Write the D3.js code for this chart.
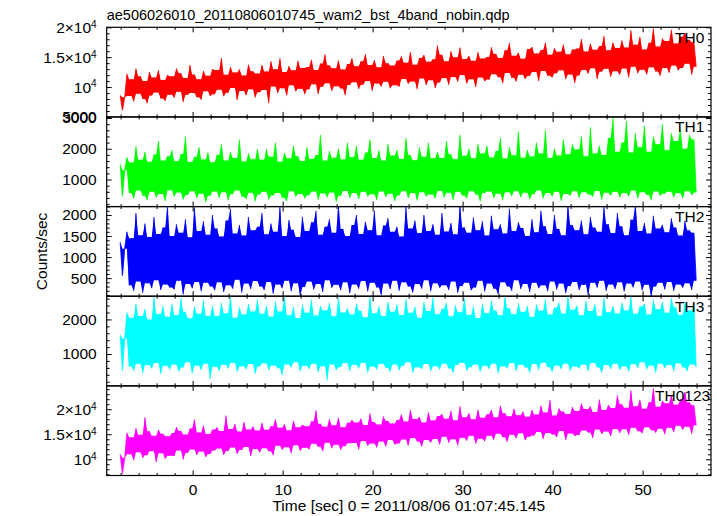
<!DOCTYPE html>
<html><head><meta charset="utf-8">
<script src="https://cdn.jsdelivr.net/npm/d3@7"></script>
<style>
body{margin:0;background:#fff}
svg{display:block}
text{font-family:"Liberation Sans",Arial,Helvetica,sans-serif;fill:#000}
</style>
</head><body>
<svg id="chart" width="717" height="516"></svg>
<script>
// ---------------- data ----------------
const TITLE = "ae506026010_20110806010745_wam2_bst_4band_nobin.qdp";
const X_LABEL = "Time [sec] 0 = 2011/08/06 01:07:45.145";
const Y_LABEL = "Counts/sec";
const TIME_START = -8.05, TIME_STEP = 0.25;   // sampling of the values below
const xTicks = [0, 10, 20, 30, 40, 50];
const seriesNames = ["TH0", "TH1", "TH2", "TH3", "TH0123"];

const th0 = [8600,6100,8300,
12200,8500,11300,7600,13100,8900,11800,8000,11000,7300,12500,8600,11600,9100,12800,8100,11200,7700,12000,8700,
11800,8200,13100,9200,12300,7500,11500,8700,13700,9000,12100,8300,11300,7900,12700,9300,11900,8500,13000,8800,
12850,9550,14850,8450,12050,9050,13350,9850,12450,7850,12950,9350,11950,8650,13750,9650,12650,8250,12250,9150,
13700,9500,12600,7300,14300,10100,13000,9000,14800,9800,12500,8600,13500,10300,12800,9300,14400,9700,13200,8800,
13350,9650,14550,10450,12850,8850,13950,10050,15450,10650,13650,9350,13150,10150,14450,9750,12950,8650,13850,10350,
14800,10800,13500,9700,14300,10400,15500,11000,13700,9400,14500,10600,13300,10100,15200,10900,14000,9800,13600,10300,
14450,10050,15150,11350,14050,10550,15850,10950,13750,9650,14850,11450,15350,10350,14250,11150,14650,9850,16950,10750,
15400,11500,14300,10400,16000,11700,15000,10900,16600,12000,14700,10600,15200,11300,14400,10000,15800,11600,14800,11000,
15050,11250,16650,12150,15550,11650,14850,10650,16150,12350,17350,11550,15250,10950,15750,12050,14750,11350,16350,11850,
16700,12500,15600,11000,16200,12700,17400,11900,15400,11600,16500,12300,15900,12800,17100,11300,15500,12100,16300,10700,
16450,11950,18050,12850,15950,12250,17250,13150,16250,11350,16850,12550,18550,13050,16150,11750,17450,12650,16550,12050,
17800,13100,16600,11600,19500,13400,17100,12300,18400,12900,16300,12100,17400,13300,19800,12600,16800,11900,18100,13200,
17700,12400,19600,13600,17300,12800,18400,13200,19100,13900,17900,12100,17500,13400];

const th1 = [1500,450,1300,
1720,560,1550,380,2080,640,1640,470,1900,330,1580,600,1810,420,2250,530,1620,300,1760,650,
1950,450,1600,580,1830,350,2400,500,1570,620,1740,390,2050,540,1650,260,1880,470,1560,610,
1800,400,2150,590,1620,330,1900,520,1700,640,2300,440,1590,370,1850,570,1660,290,2000,510,
1640,600,1980,350,1740,480,2200,560,1580,410,1870,300,1690,620,2100,450,1760,530,1600,380,
2050,490,1670,610,1800,340,2450,550,1620,420,1930,580,1710,280,2000,470,1650,630,2200,400,
1730,560,2100,370,1640,600,1880,450,2300,520,1700,330,1950,610,1620,430,2150,540,1780,300,
1960,480,1670,620,2350,400,1800,560,1630,320,2050,590,1740,450,2200,510,1690,380,1900,630,
1700,420,2250,570,1820,340,1660,600,2450,480,1770,390,2000,620,1690,510,2150,290,1850,560,
2100,610,1720,400,1930,540,2350,330,1680,590,2050,460,1790,620,2550,420,1710,570,1960,360,
1750,520,2200,640,1850,380,2600,560,1700,450,2000,600,1780,310,2300,530,1820,470,2150,620,
1980,400,2400,590,1760,510,2700,440,1850,630,2100,350,1800,570,2350,480,3000,600,1900,420,
2200,560,2900,450,1880,640,2500,380,2050,590,2750,500,1900,330,2400,610,2150,470,2800,540,
1950,600,2500,420,2250,560,2650,380,2000,620,2450,490,2300,580];

const th2 = [1350,550,1200,
1600,330,1450,200,2050,420,1520,150,1800,380,1480,260,1950,450,1550,220,1700,350,2200,280,
1500,230,1780,440,1580,110,1900,360,1470,260,2180,410,1620,190,1850,390,1530,300,2000,210,
1680,400,1490,170,1870,330,2150,250,1560,460,1760,160,1510,370,1950,240,1640,430,1720,300,
2050,220,1540,410,1800,130,1600,350,2200,260,1500,440,1880,190,1650,380,1480,80,1960,290,
1620,420,1830,230,2100,360,1530,170,1720,450,1900,270,1580,340,2250,210,1670,400,1500,140,
1760,350,2000,250,1550,430,1840,180,1640,390,2100,280,1520,100,1750,370,1920,240,1600,440,
1720,200,1490,400,2200,300,1680,160,1870,360,1570,250,2000,450,1620,190,1780,380,1530,270,
2050,330,1610,220,1810,420,1540,150,2250,310,1700,390,1580,210,1940,280,1640,440,1850,180,
1510,370,1980,250,1660,120,1780,400,1560,300,2150,200,1620,450,1830,240,1690,360,1500,170,
1900,390,1590,260,2100,330,1730,190,1550,420,2000,230,1670,370,1520,140,2250,310,1760,410,
1640,220,1870,340,1540,100,1950,390,1700,270,1600,440,2200,200,1780,350,1570,240,2050,400,
1730,180,1520,370,1890,280,2250,420,1620,210,1810,340,1560,60,1980,300,1680,390,1770,230,
1590,410,1920,200,1700,350,1510,270,1860,380,1640,220,1580,440];

const th3 = [1550,500,1450,
2200,640,2050,520,2450,720,2100,450,2300,680,2000,580,2650,740,2150,420,2380,660,2080,550,
2450,700,2130,490,2620,610,2220,760,2030,440,2380,670,2160,540,2550,720,2100,280,2400,630,
2100,520,2480,690,2180,580,2680,750,2050,480,2350,650,2140,560,2450,710,2230,430,2580,640,
2160,730,2400,530,2080,670,2520,590,2230,390,2700,700,2120,610,2360,760,2040,500,2430,660,
2190,570,2580,720,2110,470,2390,650,2260,240,2480,700,2090,540,2630,620,2200,740,2330,510,
2140,690,2450,580,2250,750,2060,460,2670,640,2180,550,2380,720,2100,600,2500,490,2220,700,
2430,530,2130,660,2590,760,2190,450,2360,620,2050,570,2500,710,2240,500,2640,650,2150,550,
2310,720,2480,580,2090,460,2410,680,2210,750,2610,520,2130,620,2370,700,2040,480,2460,660,
2180,570,2530,720,2260,440,2120,650,2670,580,2320,740,2150,510,2470,690,2220,610,2390,460,
2080,710,2430,540,2250,750,2580,620,2140,480,2340,670,2490,570,2170,720,2690,520,2280,640,
2400,580,2120,700,2530,500,2240,740,2440,610,2100,450,2630,680,2210,570,2390,720,2170,540,
2480,650,2260,490,2670,710,2160,600,2370,760,2450,550,2140,670,2570,460,2290,720,2510,590,
2190,680,2620,520,2350,730,2130,610,2500,500,2260,700,2420,630];

const th0123 = [11000,7100,10300,
15300,11000,14400,9800,16200,11400,14900,10300,18400,10800,15600,11600,14700,9400,15900,11200,15100,10100,14600,10700,
15250,10650,16450,11750,15650,9950,14950,11250,16150,11950,17950,10850,15350,11550,16750,10450,15050,11050,15950,11750,
16350,12150,15650,10850,18750,11650,16050,12350,17050,11050,15550,11850,17450,12450,15950,10650,16550,12050,15750,11350,
17300,12200,15900,11600,16600,10800,18000,12700,16300,11900,17000,12400,15800,11200,17700,12800,16400,11700,16900,12300,
16600,12000,17600,13100,19800,12500,17100,11600,16500,13300,18000,12200,16800,12900,18300,11900,16400,12600,17300,13200,
17850,13250,17350,11950,18150,13650,16850,12750,19150,13150,17450,12350,16950,13550,18550,12550,17650,13850,17150,12950,
17850,13150,18950,13950,17550,12750,19850,14250,18050,13550,18450,12550,17350,13850,19350,13350,17750,14050,18650,12950,
19000,14500,18100,13300,19700,14000,17800,12800,20600,14300,18400,13700,19200,14700,18000,13100,19900,14100,18300,13600,
19000,14700,19900,13900,18400,15100,20700,14400,19200,13500,18600,14900,20100,14200,18800,15200,19500,13800,18500,14500,
19850,14750,18950,15450,20750,14050,19350,15250,21850,14950,18750,14450,20150,15650,19550,13850,19050,15150,20450,14650,
19650,14850,21150,15750,20050,15350,20550,14250,19450,15950,21950,15050,19850,15550,20850,14650,20250,16050,22750,15250,
21000,16000,20300,14900,23800,16300,20600,15600,21900,15200,20100,16400,21400,15800,24200,15300,20500,16100,21700,15000,
21200,16300,22900,15400,20900,16700,22000,15900,23500,16500,21400,15100,20800,16800];

const seriesValues = [th0, th1, th2, th3, th0123];

// axis settings per panel
const yDomains = [[5000, 20000], [120, 3035], [70, 2200], [80, 2670], [6760, 24660]];
const yMajorTicks = [[5000, 10000, 15000, 20000], [1000, 2000, 3000], [500, 1000, 1500, 2000], [1000, 2000], [10000, 15000, 20000]];
const yTickLabels = [["5000", "10^4", "1.5×10^4", "2×10^4"], ["1000", "2000", "3000"], ["500", "1000", "1500", "2000"], ["1000", "2000"], ["10^4", "1.5×10^4", "2×10^4"]];
const yMinorStep = [1000, 200, 100, 200, 1000];
const xMinorStep = 2;

// styles
const colors = ["#ff0000", "#00ff00", "#0000ff", "#00ffff", "#ff00ff"];

// ---------------- layout ----------------
const plotLeft = 106.7, plotRight = 711, plotTop = 27.3, plotBottom = 475.5;
const nPanels = seriesValues.length;
const panelH = (plotBottom - plotTop) / nPanels;
const FONT = 15.5;

const svg = d3.select("#chart");
const x = d3.scaleLinear().domain([-9.55, 57.6]).range([plotLeft, plotRight]);
const xMinor = d3.range(-8, 58, xMinorStep).filter(v => v % 10 !== 0);
const tAt = i => TIME_START + i * TIME_STEP;

function setLabel(textSel) {
  textSel.each(function () {
    const t = d3.select(this);
    const parts = t.text().split("^");
    t.text(null);
    t.append("tspan").text(parts[0]);
    if (parts[1]) t.append("tspan").attr("dy", "-0.5em").attr("font-size", "0.65em").text(parts[1]);
  });
}

function styleAxis(g) {
  g.attr("font-family", null).attr("font-size", null);
  g.select(".domain").remove();
  g.selectAll(".tick line").attr("stroke", "#000").attr("stroke-width", 1);
}

// the dense light curve fills the space between its own swings: the core
// band runs, at each sample, between the sample and its nearer opposite neighbour
function coreUpper(v, i) {
  const a = v[i - 1], b = v[i + 1];
  if (a === undefined || b === undefined) return v[i];
  if (v[i] <= a && v[i] <= b) return Math.min(a, b);
  return v[i];
}
function coreLower(v, i) {
  const a = v[i - 1], b = v[i + 1];
  if (a === undefined || b === undefined) return v[i];
  if (v[i] >= a && v[i] >= b) return Math.max(a, b);
  return v[i];
}

const defs = svg.append("defs");

seriesValues.forEach((vals, k) => {
  const top = plotTop + k * panelH, bottom = top + panelH;
  const y = d3.scaleLinear().domain(yDomains[k]).range([bottom, top]);
  const [d0, d1] = yDomains[k];
  const minor = d3.range(Math.ceil(d0 / yMinorStep[k]) * yMinorStep[k], d1 + 1e-9, yMinorStep[k])
    .filter(v => !yMajorTicks[k].includes(v));

  defs.append("clipPath").attr("id", "clip" + k)
    .append("rect").attr("x", plotLeft).attr("y", top).attr("width", plotRight - plotLeft).attr("height", panelH);

  const g = svg.append("g").attr("clip-path", `url(#clip${k})`);
  // solid core of the light curve
  g.append("path")
    .datum(vals)
    .attr("fill", colors[k])
    .attr("stroke", "none")
    .attr("d", d3.area()
      .x((d, i) => x(tAt(i)))
      .y0((d, i, arr) => y(coreLower(arr, i)))
      .y1((d, i, arr) => y(coreUpper(arr, i))));
  // the light curve itself
  g.append("path")
    .datum(vals)
    .attr("fill", "none")
    .attr("stroke", colors[k])
    .attr("stroke-opacity", 0.8)
    .attr("stroke-width", 1.1)
    .attr("d", d3.line().x((d, i) => x(tAt(i))).y(d => y(d)));

  // left axis (major with labels)
  const gl = svg.append("g").attr("transform", `translate(${plotLeft},0)`)
    .call(d3.axisLeft(y).tickValues(yMajorTicks[k]).tickSize(-5).tickPadding(10)
      .tickFormat((d, i) => yTickLabels[k][i]))
    .call(styleAxis);
  gl.selectAll(".tick text").attr("font-size", FONT).call(setLabel);
  svg.append("g").attr("transform", `translate(${plotLeft},0)`)
    .call(d3.axisLeft(y).tickValues(minor).tickSize(-3).tickFormat(""))
    .call(styleAxis);
  // right axis
  svg.append("g").attr("transform", `translate(${plotRight},0)`)
    .call(d3.axisRight(y).tickValues(yMajorTicks[k]).tickSize(-5).tickFormat(""))
    .call(styleAxis);
  svg.append("g").attr("transform", `translate(${plotRight},0)`)
    .call(d3.axisRight(y).tickValues(minor).tickSize(-3).tickFormat(""))
    .call(styleAxis);
  // top and bottom x ticks
  svg.append("g").attr("transform", `translate(0,${top})`)
    .call(d3.axisTop(x).tickValues(xTicks).tickSize(-5).tickFormat(""))
    .call(styleAxis);
  svg.append("g").attr("transform", `translate(0,${top})`)
    .call(d3.axisTop(x).tickValues(xMinor).tickSize(-2.5).tickFormat(""))
    .call(styleAxis);
  const gb = svg.append("g").attr("transform", `translate(0,${bottom})`)
    .call(d3.axisBottom(x).tickValues(xTicks).tickSize(-5).tickPadding(8)
      .tickFormat(k === nPanels - 1 ? d3.format("d") : ""))
    .call(styleAxis);
  gb.selectAll(".tick text").attr("font-size", FONT);
  svg.append("g").attr("transform", `translate(0,${bottom})`)
    .call(d3.axisBottom(x).tickValues(xMinor).tickSize(-2.5).tickFormat(""))
    .call(styleAxis);

  // frame
  svg.append("rect").attr("x", plotLeft).attr("y", top)
    .attr("width", plotRight - plotLeft).attr("height", panelH)
    .attr("fill", "none").attr("stroke", "#000").attr("stroke-width", 1.2);

  // panel label
  svg.append("text")
    .attr("x", k === nPanels - 1 ? 655 : 675)
    .attr("y", top + 15.3)
    .attr("font-size", FONT)
    .text(seriesNames[k]);
});

// title and axis titles
svg.append("text").attr("x", plotLeft).attr("y", 20).attr("font-size", 14.5).text(TITLE);
svg.append("text").attr("x", (plotLeft + plotRight) / 2).attr("y", 511)
  .attr("text-anchor", "middle").attr("font-size", FONT).text(X_LABEL);
svg.append("text").attr("transform", `translate(47,${(plotTop + plotBottom) / 2}) rotate(-90)`)
  .attr("text-anchor", "middle").attr("font-size", FONT).text(Y_LABEL);
</script>
</body></html>
